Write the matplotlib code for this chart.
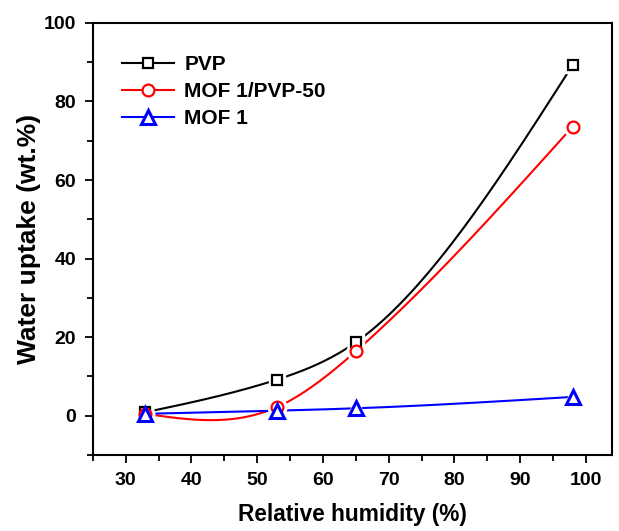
import matplotlib
matplotlib.use('Agg')
import matplotlib.pyplot as plt
import numpy as np
from matplotlib.ticker import MultipleLocator

plt.rcParams['font.family'] = ['Liberation Sans', 'DejaVu Sans']
plt.rcParams['font.weight'] = 'bold'

# data
humidity = [33, 53, 65, 98]
pvp = [0.9, 9.2, 18.7, 89.3]
mof_pvp50 = [0.5, 2.2, 16.4, 73.6]
mof1 = [0.5, 1.3, 1.9, 4.8]


def natural_spline(x, y, n=300):
	x = np.asarray(x, float)
	y = np.asarray(y, float)
	k = len(x)
	h = np.diff(x)
	A = np.zeros((k, k))
	b = np.zeros(k)
	A[0, 0] = 1
	A[-1, -1] = 1
	for i in range(1, k - 1):
		A[i, i - 1] = h[i - 1]
		A[i, i] = 2 * (h[i - 1] + h[i])
		A[i, i + 1] = h[i]
		b[i] = 6 * ((y[i + 1] - y[i]) / h[i] - (y[i] - y[i - 1]) / h[i - 1])
	M = np.linalg.solve(A, b)
	xs = np.linspace(x[0], x[-1], n)
	ys = np.empty_like(xs)
	for j, t in enumerate(xs):
		i = min(np.searchsorted(x, t, side='right') - 1, k - 2)
		dx1 = x[i + 1] - t
		dx0 = t - x[i]
		ys[j] = (M[i] * dx1 ** 3 + M[i + 1] * dx0 ** 3) / (6 * h[i]) \
			+ (y[i] / h[i] - M[i] * h[i] / 6) * dx1 \
			+ (y[i + 1] / h[i] - M[i + 1] * h[i] / 6) * dx0
	return xs, ys


fig = plt.figure(figsize=(6.19, 5.31), dpi=100)
ax = fig.add_axes([0.150, 0.143, 0.839, 0.814])

series = [
	(pvp, 'black', 's', 7, 'PVP', 1.6),
	(mof_pvp50, 'red', 'o', 8.5, 'MOF 1/PVP-50', 1.6),
	(mof1, 'blue', '^', 10, 'MOF 1', 2.2),
]

for vals, col, mk, ms, lab, mew in series:
	xs, ys = natural_spline(humidity, vals)
	ax.plot(xs, ys, '-', color=col, lw=1.5, zorder=2)
	# white halo to mimic the gaps around markers
	ax.plot(humidity, vals, mk, ms=ms + 5, mfc='white', mec='white', zorder=3)
	ax.plot(humidity, vals, mk, ms=ms, mfc='white', mec=col, mew=mew, zorder=4)
	ax.plot([], [], '-', color=col, lw=1.5, marker=mk, ms=ms, mfc='white',
			mec=col, mew=mew, label=lab)

ax.set_xlim(25, 104)
ax.set_ylim(-10, 100)
ax.xaxis.set_major_locator(MultipleLocator(10))
ax.xaxis.set_minor_locator(MultipleLocator(5))
ax.yaxis.set_major_locator(MultipleLocator(20))
ax.yaxis.set_minor_locator(MultipleLocator(10))
ax.set_xticks(range(30, 101, 10))
ax.tick_params(which='both', direction='out', top=False, right=False, width=1.3)
ax.tick_params(which='major', length=6, labelsize=14, pad=6)
ax.tick_params(which='minor', length=4)
for s in ax.spines.values():
	s.set_linewidth(1.5)

ax.set_xlabel('Relative humidity (%)', fontsize=16.3, fontweight='bold', labelpad=10)
ax.set_ylabel('Water uptake (wt.%)', fontsize=19, fontweight='bold', labelpad=2)

ax.legend(loc='upper left', bbox_to_anchor=(0.02, 0.968), frameon=False,
		  fontsize=15, handlelength=2.5, handletextpad=0.5, labelspacing=0.37)

plt.savefig('out.png', dpi=100)
